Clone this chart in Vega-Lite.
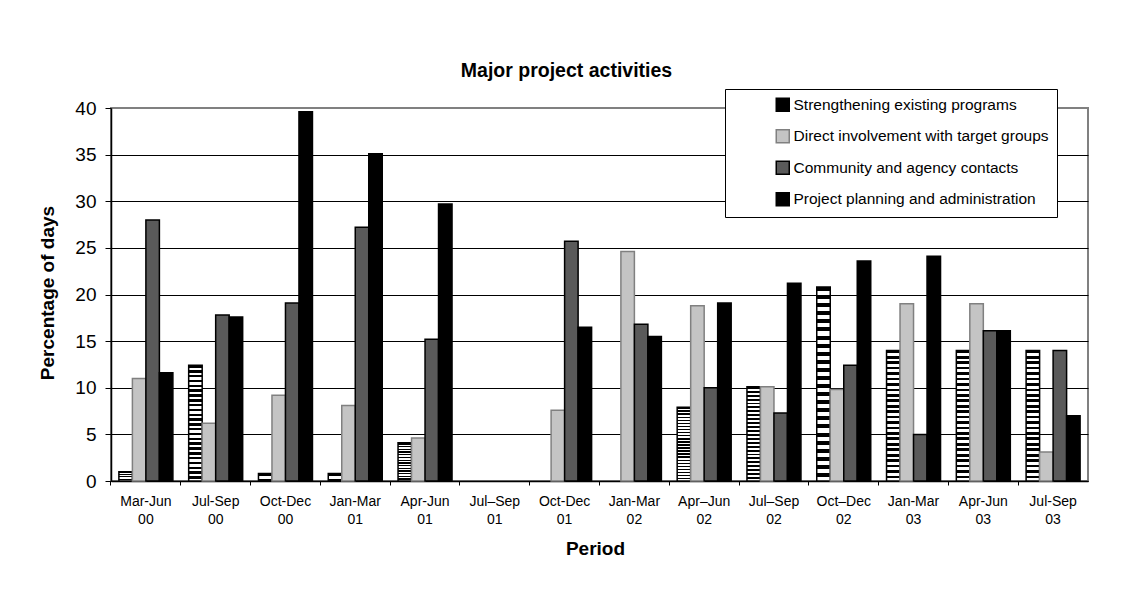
{
  "$schema": "https://vega.github.io/schema/vega-lite/v6.json",
  "autosize": {"type": "none"},
  "width": 977,
  "height": 373,
  "padding": {"left": 111, "top": 108, "right": 40, "bottom": 114},
  "background": "#ffffff",
  "title": {
    "text": "Major project activities",
    "font": "Liberation Sans",
    "fontSize": 19.5,
    "fontWeight": "bold",
    "color": "#000000",
    "anchor": "middle",
    "frame": "group",
    "baseline": "middle",
    "offset": -2,
    "dx": -33
  },
  "data": {
    "values": [
      {"p": "Mar-Jun 00", "s": "Strengthening existing programs", "v": 1},
      {"p": "Mar-Jun 00", "s": "Direct involvement with target groups", "v": 11},
      {"p": "Mar-Jun 00", "s": "Community and agency contacts", "v": 28},
      {"p": "Mar-Jun 00", "s": "Project planning and administration", "v": 11.6},
      {"p": "Jul-Sep 00", "s": "Strengthening existing programs", "v": 12.4},
      {"p": "Jul-Sep 00", "s": "Direct involvement with target groups", "v": 6.2},
      {"p": "Jul-Sep 00", "s": "Community and agency contacts", "v": 17.8},
      {"p": "Jul-Sep 00", "s": "Project planning and administration", "v": 17.6},
      {"p": "Oct-Dec 00", "s": "Strengthening existing programs", "v": 0.8},
      {"p": "Oct-Dec 00", "s": "Direct involvement with target groups", "v": 9.2},
      {"p": "Oct-Dec 00", "s": "Community and agency contacts", "v": 19.1},
      {"p": "Oct-Dec 00", "s": "Project planning and administration", "v": 39.6},
      {"p": "Jan-Mar 01", "s": "Strengthening existing programs", "v": 0.8},
      {"p": "Jan-Mar 01", "s": "Direct involvement with target groups", "v": 8.1},
      {"p": "Jan-Mar 01", "s": "Community and agency contacts", "v": 27.2},
      {"p": "Jan-Mar 01", "s": "Project planning and administration", "v": 35.1},
      {"p": "Apr-Jun 01", "s": "Strengthening existing programs", "v": 4.1},
      {"p": "Apr-Jun 01", "s": "Direct involvement with target groups", "v": 4.6},
      {"p": "Apr-Jun 01", "s": "Community and agency contacts", "v": 15.2},
      {"p": "Apr-Jun 01", "s": "Project planning and administration", "v": 29.7},
      {"p": "Jul–Sep 01", "s": "Strengthening existing programs", "v": 0},
      {"p": "Jul–Sep 01", "s": "Direct involvement with target groups", "v": 0},
      {"p": "Jul–Sep 01", "s": "Community and agency contacts", "v": 0},
      {"p": "Jul–Sep 01", "s": "Project planning and administration", "v": 0},
      {"p": "Oct-Dec 01", "s": "Strengthening existing programs", "v": 0},
      {"p": "Oct-Dec 01", "s": "Direct involvement with target groups", "v": 7.6},
      {"p": "Oct-Dec 01", "s": "Community and agency contacts", "v": 25.7},
      {"p": "Oct-Dec 01", "s": "Project planning and administration", "v": 16.5},
      {"p": "Jan-Mar 02", "s": "Strengthening existing programs", "v": 0},
      {"p": "Jan-Mar 02", "s": "Direct involvement with target groups", "v": 24.6},
      {"p": "Jan-Mar 02", "s": "Community and agency contacts", "v": 16.8},
      {"p": "Jan-Mar 02", "s": "Project planning and administration", "v": 15.5},
      {"p": "Apr–Jun 02", "s": "Strengthening existing programs", "v": 7.9},
      {"p": "Apr–Jun 02", "s": "Direct involvement with target groups", "v": 18.8},
      {"p": "Apr–Jun 02", "s": "Community and agency contacts", "v": 10},
      {"p": "Apr–Jun 02", "s": "Project planning and administration", "v": 19.1},
      {"p": "Jul–Sep 02", "s": "Strengthening existing programs", "v": 10.1},
      {"p": "Jul–Sep 02", "s": "Direct involvement with target groups", "v": 10.1},
      {"p": "Jul–Sep 02", "s": "Community and agency contacts", "v": 7.3},
      {"p": "Jul–Sep 02", "s": "Project planning and administration", "v": 21.2},
      {"p": "Oct–Dec 02", "s": "Strengthening existing programs", "v": 20.8},
      {"p": "Oct–Dec 02", "s": "Direct involvement with target groups", "v": 9.8},
      {"p": "Oct–Dec 02", "s": "Community and agency contacts", "v": 12.4},
      {"p": "Oct–Dec 02", "s": "Project planning and administration", "v": 23.6},
      {"p": "Jan-Mar 03", "s": "Strengthening existing programs", "v": 14},
      {"p": "Jan-Mar 03", "s": "Direct involvement with target groups", "v": 19},
      {"p": "Jan-Mar 03", "s": "Community and agency contacts", "v": 5},
      {"p": "Jan-Mar 03", "s": "Project planning and administration", "v": 24.1},
      {"p": "Apr-Jun 03", "s": "Strengthening existing programs", "v": 14},
      {"p": "Apr-Jun 03", "s": "Direct involvement with target groups", "v": 19},
      {"p": "Apr-Jun 03", "s": "Community and agency contacts", "v": 16.1},
      {"p": "Apr-Jun 03", "s": "Project planning and administration", "v": 16.1},
      {"p": "Jul-Sep 03", "s": "Strengthening existing programs", "v": 14},
      {"p": "Jul-Sep 03", "s": "Direct involvement with target groups", "v": 3.1},
      {"p": "Jul-Sep 03", "s": "Community and agency contacts", "v": 14},
      {"p": "Jul-Sep 03", "s": "Project planning and administration", "v": 7}
    ]
  },
  "transform": [{"filter": "datum.v > 0"}],
  "mark": {"type": "bar", "strokeWidth": 1.5, "cornerRadius": 0},
  "encoding": {
    "x": {
      "field": "p",
      "type": "nominal",
      "sort": ["Mar-Jun 00", "Jul-Sep 00", "Oct-Dec 00", "Jan-Mar 01", "Apr-Jun 01", "Jul–Sep 01", "Oct-Dec 01", "Jan-Mar 02", "Apr–Jun 02", "Jul–Sep 02", "Oct–Dec 02", "Jan-Mar 03", "Apr-Jun 03", "Jul-Sep 03"],
      "scale": {
        "domain": ["Mar-Jun 00", "Jul-Sep 00", "Oct-Dec 00", "Jan-Mar 01", "Apr-Jun 01", "Jul–Sep 01", "Oct-Dec 01", "Jan-Mar 02", "Apr–Jun 02", "Jul–Sep 02", "Oct–Dec 02", "Jan-Mar 03", "Apr-Jun 03", "Jul-Sep 03"],
        "paddingInner": 0,
        "paddingOuter": 0
      },
      "axis": {
        "title": "Period",
        "titleFont": "Liberation Sans",
        "titleFontSize": 19,
        "titleFontWeight": "bold",
        "titleColor": "#000000",
        "titleX": 484,
        "titleY": 67,
        "titleBaseline": "middle",
        "bandPosition": 0,
        "labelDx": 34.9,
        "labelAngle": 0,
        "labelAlign": "center",
        "labelBaseline": "top",
        "labelExpr": "split(datum.label, ' ')",
        "labelLineHeight": 18.3,
        "labelFont": "Liberation Sans",
        "labelFontSize": 14,
        "labelColor": "#000000",
        "labelPadding": 9,
        "labelOverlap": false,
        "labelFlush": false,
        "labelBound": false,
        "labelLimit": 0,
        "tickSize": 4,
        "tickColor": "#000000",
        "tickWidth": 1,
        "domainColor": "#000000",
        "domainWidth": 1.5,
        "grid": false
      }
    },
    "xOffset": {
      "field": "s",
      "type": "nominal",
      "sort": ["Strengthening existing programs", "Direct involvement with target groups", "Community and agency contacts", "Project planning and administration"],
      "scale": {
        "domain": ["Strengthening existing programs", "Direct involvement with target groups", "Community and agency contacts", "Project planning and administration"],
        "paddingInner": 0,
        "paddingOuter": 0.585
      }
    },
    "y": {
      "field": "v",
      "type": "quantitative",
      "scale": {"domain": [0, 40], "nice": false},
      "axis": {
        "values": [0, 5, 10, 15, 20, 25, 30, 35, 40],
        "title": "Percentage of days",
        "titleFont": "Liberation Sans",
        "titleFontSize": 19,
        "titleFontWeight": "bold",
        "titleColor": "#000000",
        "titleX": -64,
        "titleY": 184.5,
        "titleAngle": -90,
        "titleAlign": "center",
        "titleBaseline": "middle",
        "labelFont": "Liberation Sans",
        "labelFontSize": 19,
        "labelColor": "#000000",
        "labelPadding": 9,
        "tickSize": 6,
        "tickColor": "#000000",
        "tickWidth": 1,
        "domainColor": "#000000",
        "domainWidth": 1.5,
        "grid": true,
        "gridColor": {"condition": {"test": "datum.value === 40", "value": "#808080"}, "value": "#000000"},
        "gridWidth": 1,
        "gridOpacity": 1
      }
    },
    "fill": {
      "condition": {
        "test": "datum.s === 'Strengthening existing programs'",
        "value": {"gradient": "linear", "x1": 0, "y1": 0, "x2": 0, "y2": 1, "stops": [
          {"offset": 0, "color": "#000000"}, {"offset": 0.02083, "color": "#000000"}, {"offset": 0.02083, "color": "#ffffff"}, {"offset": 0.04167, "color": "#ffffff"},
          {"offset": 0.04167, "color": "#000000"}, {"offset": 0.0625, "color": "#000000"}, {"offset": 0.0625, "color": "#ffffff"}, {"offset": 0.08333, "color": "#ffffff"},
          {"offset": 0.08333, "color": "#000000"}, {"offset": 0.10417, "color": "#000000"}, {"offset": 0.10417, "color": "#ffffff"}, {"offset": 0.125, "color": "#ffffff"},
          {"offset": 0.125, "color": "#000000"}, {"offset": 0.14583, "color": "#000000"}, {"offset": 0.14583, "color": "#ffffff"}, {"offset": 0.16667, "color": "#ffffff"},
          {"offset": 0.16667, "color": "#000000"}, {"offset": 0.1875, "color": "#000000"}, {"offset": 0.1875, "color": "#ffffff"}, {"offset": 0.20833, "color": "#ffffff"},
          {"offset": 0.20833, "color": "#000000"}, {"offset": 0.22917, "color": "#000000"}, {"offset": 0.22917, "color": "#ffffff"}, {"offset": 0.25, "color": "#ffffff"},
          {"offset": 0.25, "color": "#000000"}, {"offset": 0.27083, "color": "#000000"}, {"offset": 0.27083, "color": "#ffffff"}, {"offset": 0.29167, "color": "#ffffff"},
          {"offset": 0.29167, "color": "#000000"}, {"offset": 0.3125, "color": "#000000"}, {"offset": 0.3125, "color": "#ffffff"}, {"offset": 0.33333, "color": "#ffffff"},
          {"offset": 0.33333, "color": "#000000"}, {"offset": 0.35417, "color": "#000000"}, {"offset": 0.35417, "color": "#ffffff"}, {"offset": 0.375, "color": "#ffffff"},
          {"offset": 0.375, "color": "#000000"}, {"offset": 0.39583, "color": "#000000"}, {"offset": 0.39583, "color": "#ffffff"}, {"offset": 0.41667, "color": "#ffffff"},
          {"offset": 0.41667, "color": "#000000"}, {"offset": 0.4375, "color": "#000000"}, {"offset": 0.4375, "color": "#ffffff"}, {"offset": 0.45833, "color": "#ffffff"},
          {"offset": 0.45833, "color": "#000000"}, {"offset": 0.47917, "color": "#000000"}, {"offset": 0.47917, "color": "#ffffff"}, {"offset": 0.5, "color": "#ffffff"},
          {"offset": 0.5, "color": "#000000"}, {"offset": 0.52083, "color": "#000000"}, {"offset": 0.52083, "color": "#ffffff"}, {"offset": 0.54167, "color": "#ffffff"},
          {"offset": 0.54167, "color": "#000000"}, {"offset": 0.5625, "color": "#000000"}, {"offset": 0.5625, "color": "#ffffff"}, {"offset": 0.58333, "color": "#ffffff"},
          {"offset": 0.58333, "color": "#000000"}, {"offset": 0.60417, "color": "#000000"}, {"offset": 0.60417, "color": "#ffffff"}, {"offset": 0.625, "color": "#ffffff"},
          {"offset": 0.625, "color": "#000000"}, {"offset": 0.64583, "color": "#000000"}, {"offset": 0.64583, "color": "#ffffff"}, {"offset": 0.66667, "color": "#ffffff"},
          {"offset": 0.66667, "color": "#000000"}, {"offset": 0.6875, "color": "#000000"}, {"offset": 0.6875, "color": "#ffffff"}, {"offset": 0.70833, "color": "#ffffff"},
          {"offset": 0.70833, "color": "#000000"}, {"offset": 0.72917, "color": "#000000"}, {"offset": 0.72917, "color": "#ffffff"}, {"offset": 0.75, "color": "#ffffff"},
          {"offset": 0.75, "color": "#000000"}, {"offset": 0.77083, "color": "#000000"}, {"offset": 0.77083, "color": "#ffffff"}, {"offset": 0.79167, "color": "#ffffff"},
          {"offset": 0.79167, "color": "#000000"}, {"offset": 0.8125, "color": "#000000"}, {"offset": 0.8125, "color": "#ffffff"}, {"offset": 0.83333, "color": "#ffffff"},
          {"offset": 0.83333, "color": "#000000"}, {"offset": 0.85417, "color": "#000000"}, {"offset": 0.85417, "color": "#ffffff"}, {"offset": 0.875, "color": "#ffffff"},
          {"offset": 0.875, "color": "#000000"}, {"offset": 0.89583, "color": "#000000"}, {"offset": 0.89583, "color": "#ffffff"}, {"offset": 0.91667, "color": "#ffffff"},
          {"offset": 0.91667, "color": "#000000"}, {"offset": 0.9375, "color": "#000000"}, {"offset": 0.9375, "color": "#ffffff"}, {"offset": 0.95833, "color": "#ffffff"},
          {"offset": 0.95833, "color": "#000000"}, {"offset": 0.97917, "color": "#000000"}, {"offset": 0.97917, "color": "#ffffff"}, {"offset": 1, "color": "#ffffff"}
        ]}
      },
      "field": "s",
      "type": "nominal",
      "sort": ["Strengthening existing programs", "Direct involvement with target groups", "Community and agency contacts", "Project planning and administration"],
      "scale": {
        "domain": ["Strengthening existing programs", "Direct involvement with target groups", "Community and agency contacts", "Project planning and administration"],
        "range": ["#000000", "#c4c4c4", "#5a5a5a", "#000000"]
      },
      "legend": {
        "orient": "none",
        "legendX": 614,
        "legendY": -19,
        "title": null,
        "symbolType": "square",
        "symbolSize": 169,
        "symbolStrokeWidth": 1.5,
        "labelFont": "Liberation Sans",
        "labelFontSize": 15.5,
        "labelColor": "#000000",
        "labelOffset": 3,
        "labelLimit": 0,
        "rowPadding": 11.5,
        "padding": 8,
        "symbolOffset": 42,
        "strokeColor": "#000000",
        "fillColor": "#ffffff",
        "encode": {
          "symbols": {
            "update": {
              "fill": [
                {"test": "datum.value === 'Strengthening existing programs'", "value": {"gradient": "linear", "x1": 0, "y1": 0, "x2": 0, "y2": 1, "stops": [
                  {"offset": 0, "color": "#000000"}, {"offset": 0.4, "color": "#000000"}, {"offset": 0.4, "color": "#ffffff"},
                  {"offset": 0.6, "color": "#ffffff"}, {"offset": 0.6, "color": "#000000"}, {"offset": 1, "color": "#000000"}
                ]}},
                {"scale": "fill", "field": "value"}
              ]
            }
          }
        }
      }
    },
    "stroke": {
      "field": "s",
      "type": "nominal",
      "sort": ["Strengthening existing programs", "Direct involvement with target groups", "Community and agency contacts", "Project planning and administration"],
      "scale": {
        "domain": ["Strengthening existing programs", "Direct involvement with target groups", "Community and agency contacts", "Project planning and administration"],
        "range": ["#000000", "#808080", "#000000", "#000000"]
      },
      "legend": {
        "orient": "none",
        "legendX": 614,
        "legendY": -19,
        "title": null,
        "symbolType": "square",
        "symbolSize": 169,
        "symbolStrokeWidth": 1.5,
        "labelFont": "Liberation Sans",
        "labelFontSize": 15.5,
        "labelColor": "#000000",
        "labelOffset": 3,
        "labelLimit": 0,
        "rowPadding": 11.5,
        "padding": 8,
        "symbolOffset": 42,
        "strokeColor": "#000000",
        "fillColor": "#ffffff",
        "encode": {
          "symbols": {
            "update": {
              "fill": [
                {"test": "datum.value === 'Strengthening existing programs'", "value": {"gradient": "linear", "x1": 0, "y1": 0, "x2": 0, "y2": 1, "stops": [
                  {"offset": 0, "color": "#000000"}, {"offset": 0.4, "color": "#000000"}, {"offset": 0.4, "color": "#ffffff"},
                  {"offset": 0.6, "color": "#ffffff"}, {"offset": 0.6, "color": "#000000"}, {"offset": 1, "color": "#000000"}
                ]}},
                {"scale": "fill", "field": "value"}
              ]
            }
          }
        }
      }
    }
  },
  "config": {
    "view": {"stroke": "#808080", "strokeWidth": 2},
    "font": "Liberation Sans"
  }
}
